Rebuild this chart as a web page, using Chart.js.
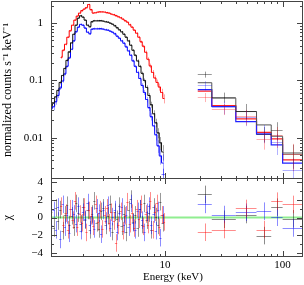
<!DOCTYPE html>
<html lang="en">
<head>
<meta charset="UTF-8">
<title>Spectrum and residuals</title>
<script src="https://cdn.jsdelivr.net/npm/chart.js"></script>
<style>
  body { margin: 0; background: #fff; }
  #wrap { position: relative; width: 304px; height: 285px; }
  canvas { position: absolute; left: 0; }
  #spec { top: 0; }
  #res { top: 178px; }
  #xlab { position: absolute; left: 143px; top: 270px; font: 11px 'Liberation Serif', serif; color: #000; white-space: nowrap; }
</style>
</head>
<body>
<div id="wrap">
  <canvas id="spec" width="304" height="180"></canvas>
  <canvas id="res" width="304" height="107"></canvas>
  <div id="xlab">Energy (keV)</div>
</div>
<script>
// soft band, bin centres in keV (black and blue share the binning)
const energyBB = [1.08,1.13,1.18,1.23,1.29,1.35,1.41,1.47,1.54,1.61,1.68,1.76,1.84,1.92,2.01,2.10,2.20,2.30,2.40,2.51,
  2.62,2.74,2.87,3.00,3.13,3.28,3.43,3.58,3.75,3.92,4.10,4.28,4.48,4.68,4.90,5.12,5.35,5.60,5.85,6.12,
  6.40,6.69,6.99,7.31,7.65,8.00,8.36,8.74,9.14,9.56];
const blackCounts = [0.036,0.041,0.052,0.067,0.092,0.122,0.162,0.224,0.316,0.455,0.641,0.922,1.224,1.354,1.274,1.129,0.922,0.868,1.062,1.106,
  1.106,1.106,1.106,1.084,1.062,1.041,1.0,0.960,0.904,0.834,0.769,0.709,0.641,0.568,0.493,0.411,0.336,0.275,0.220,0.176,
  0.133,0.100,0.0754,0.0546,0.0379,0.0264,0.0183,0.0122,0.0082,0.0057];
const blackErr = [.14,.12,.1,.08,.07,.06,.05,.05,.04,.04,.03,.03,.03,.03,.03,.03,.03,.03,.03,.03,
  .03,.03,.03,.03,.03,.03,.03,.03,.03,.03,.03,.03,.04,.04,.04,.04,.05,.05,.06,.06,
  .07,.08,.09,.1,.12,.14,.17,.2,.25,.3];
const blueCounts = [0.0323,0.035,0.0428,0.0546,0.0739,0.098,0.130,0.176,0.248,0.350,0.493,0.710,0.85,0.95,0.92,0.82,0.695,0.654,0.785,0.801,
  0.801,0.801,0.801,0.785,0.769,0.754,0.724,0.695,0.654,0.592,0.546,0.493,0.446,0.387,0.329,0.275,0.220,0.176,0.138,0.108,
  0.0817,0.0616,0.0464,0.0336,0.0234,0.0162,0.0113,0.00724,0.00483,0.00364];
const blueErr = [.16,.14,.12,.1,.08,.07,.06,.05,.05,.04,.04,.04,.04,.04,.04,.04,.04,.04,.04,.04,
  .04,.04,.04,.04,.04,.04,.04,.04,.04,.04,.04,.04,.05,.05,.05,.05,.06,.06,.07,.08,
  .09,.1,.11,.13,.15,.18,.21,.25,.3,.4];
const energyRed = [1.31,1.37,1.43,1.50,1.57,1.64,1.72,1.80,1.88,1.97,2.06,2.15,2.25,2.35,2.46,2.57,2.69,2.81,2.94,3.07,
  3.21,3.36,3.51,3.67,3.84,4.02,4.20,4.39,4.59,4.80,5.02,5.25,5.49,5.74,6.00,6.27,6.56,6.86,7.17,7.50,
  7.84,8.20,8.57,8.96,9.37,9.80];
const redCounts = [0.253,0.336,0.428,0.568,0.739,0.922,1.129,1.327,1.498,1.657,1.760,1.870,2.112,1.725,1.498,1.528,1.560,1.578,1.578,1.560,
  1.528,1.498,1.438,1.410,1.354,1.300,1.249,1.175,1.106,1.041,0.941,0.851,0.754,0.668,0.568,0.474,0.395,0.310,0.234,0.180,
  0.138,0.1106,0.0922,0.0769,0.0616,0.0483];
const redErr = [.06,.05,.05,.04,.04,.03,.03,.03,.03,.03,.03,.03,.03,.03,.03,.03,.03,.03,.03,.03,
  .03,.03,.03,.03,.03,.03,.03,.03,.03,.03,.04,.04,.04,.04,.05,.05,.06,.07,.08,.09,
  .1,.11,.12,.14,.16,.18];
// last blue point that falls below the model
const blueTailBin = [9.35, 10.0];
const blueTail = [0.0023];
const blueTailErr = [0.25];

// hard band, bin edges in keV
const hardEdges = [19, 25, 40, 60, 80, 100, 150];
const blackModelHard = [0.091, 0.049, 0.0286, 0.0167, 0.0106, 0.0054];
const blueModelHard = [0.069, 0.035, 0.019, 0.0115, 0.0075, 0.0036];
const redModelHard = [0.065, 0.0364, 0.0213, 0.0124, 0.0095, 0.0041];
const blackHard = [0.127, 0.051, 0.0298, 0.0118, 0.0138, 0.0052];
const blueHard = [0.0817, 0.034, 0.0227, 0.0123, 0.0083, 0.0027];
const redHard = [0.051, 0.0318, 0.0235, 0.0095, 0.011, 0.0052];
const blackHardErr = [.12, .2, .3, .3, .35, .45];
const blueHardErr = [.18, .25, .3, .35, .4, .6];
const redHardErr = [.18, .22, .3, .35, .4, .5];

// residuals (chi)
const blackChi = [0.6,-1.2,1.1,-0.4,0.9,-1.5,0.3,1.4,-0.8,0.2,-1.1,1.6,0.5,-0.7,1.2,-0.3,0.8,-1.4,0.4,1.9,
  -0.6,-1.3,0.7,1.1,-0.9,0.2,1.5,-1.6,0.6,-0.2,1.3,-1.0,0.4,-1.7,0.9,2.1,-0.5,0.3,-1.2,1.0,
  -0.8,1.6,-0.3,0.5,-1.4,1.2,0.1,-0.9,1.8,-0.6];
const blueChi = [-0.9,0.8,-1.4,1.2,-2.5,1.5,-1.1,0.3,-1.8,1.0,0.4,-0.7,1.3,-1.5,0.6,-0.2,1.7,-0.9,0.2,-1.3,
  1.1,0.5,-1.9,0.8,-0.4,1.4,-1.2,0.1,0.9,-1.6,0.5,1.2,-0.8,0.3,-1.1,1.6,-0.6,-1.4,0.7,1.0,
  -0.3,-1.7,0.6,1.3,-0.9,0.4,-1.5,0.8,-2.3,0.3];
const redChi = [1.3,-0.8,0.5,-1.4,1.0,-0.3,1.9,-1.1,0.4,-0.6,1.2,-1.7,0.8,0.2,-1.0,1.5,-0.5,0.9,-1.3,0.3,
  1.1,-0.6,0.6,-0.4,-2.9,-0.9,0.7,-1.5,0.2,1.8,-0.7,0.5,-1.2,1.0,-0.2,1.5,-1.0,0.4,-0.8,1.9,
  -1.4,0.6,1.6,-1.1,0.3,-0.5];
const blackChiHard = [2.63, -0.2, 0.34, -2.06, 1.18, -0.15];
const blueChiHard = [1.49, 0.34, 0.6, 0.72, 0.03, -1.19];
const redChiHard = [-1.68, -1.37, 1.03, -1.37, 1.86, 1.49];

// axes
const xRange = [1.075, 149];
const countRange = [0.0019, 2.43];
const chiRange = [-4.5, 4.5];
const xMajor = [10, 100];
const xMinor = [2, 3, 4, 5, 6, 7, 8, 9, 20, 30, 40, 50, 60, 70, 80, 90];
const countTicks = [0.01, 0.1, 1];
const countMinor = [0.002,0.003,0.004,0.005,0.006,0.007,0.008,0.009,0.02,0.03,0.04,0.05,0.06,0.07,0.08,0.09,
  0.2,0.3,0.4,0.5,0.6,0.7,0.8,0.9,2];
const chiTicks = [-4, -2, 0, 2, 4];
const chiMinor = [-3, -1, 1, 3];

Chart.defaults.font.family = "'Liberation Serif', 'Times New Roman', serif";
Chart.defaults.font.size = 11;
Chart.defaults.color = '#000';

function binEdges(c) {
  const lo = [], hi = [];
  for (let i = 0; i < c.length; i++) {
    const prev = i > 0 ? c[i - 1] : c[0] * c[0] / c[1];
    const next = i < c.length - 1 ? c[i + 1] : c[i] * c[i] / c[i - 1];
    lo.push(Math.sqrt(prev * c[i]));
    hi.push(Math.sqrt(c[i] * next));
  }
  return [lo, hi];
}

function softSet(e, v, err, color) {
  const [lo, hi] = binEdges(e);
  return { x: e, lo, hi, y: v, ylo: v.map((y, i) => y * (1 - err[i])), yhi: v.map((y, i) => y * (1 + err[i])), color };
}
function softChi(e, chi, color) {
  const [lo, hi] = binEdges(e);
  return { x: e, lo, hi, y: chi, ylo: chi.map(c => c - 1), yhi: chi.map(c => c + 1), color };
}
function hardSet(v, err, color) {
  const lo = hardEdges.slice(0, -1), hi = hardEdges.slice(1);
  return { x: lo.map((l, i) => Math.sqrt(l * hi[i])), lo, hi, y: v,
    ylo: v.map((y, i) => y * (1 - err[i])), yhi: v.map((y, i) => y * (1 + err[i])), color };
}
function hardChi(chi, color) {
  const lo = hardEdges.slice(0, -1), hi = hardEdges.slice(1);
  return { x: lo.map((l, i) => Math.sqrt(l * hi[i])), lo, hi, y: chi,
    ylo: chi.map(c => c - 1), yhi: chi.map(c => c + 1), color };
}

// data crosses: bin width horizontally, error bar vertically
const crosses = {
  id: 'crosses',
  afterDatasetsDraw(chart, args, opts) {
    const { ctx, chartArea: a, scales: { x, y } } = chart;
    ctx.save();
    ctx.beginPath();
    ctx.rect(a.left, a.top, a.right - a.left, a.bottom - a.top);
    ctx.clip();
    ctx.lineWidth = 1;
    opts.sets.forEach(s => {
      ctx.strokeStyle = s.color;
      s.y.forEach((v, i) => {
        const px = Math.round(x.getPixelForValue(s.x[i])) + 0.5;
        const py = Math.round(y.getPixelForValue(v)) + 0.5;
        ctx.beginPath();
        ctx.moveTo(x.getPixelForValue(s.lo[i]), py);
        ctx.lineTo(x.getPixelForValue(s.hi[i]), py);
        ctx.moveTo(px, y.getPixelForValue(s.ylo[i]));
        ctx.lineTo(px, y.getPixelForValue(s.yhi[i]));
        ctx.stroke();
      });
    });
    ctx.restore();
  }
};

// box with inward ticks on all four sides
const frame = {
  id: 'frame',
  afterDraw(chart, args, opts) {
    const { ctx, chartArea: a, scales: { x, y } } = chart;
    ctx.save();
    ctx.strokeStyle = '#444';
    ctx.lineWidth = 1;
    ctx.strokeRect(a.left + 0.5, a.top + 0.5, a.right - a.left - 1, a.bottom - a.top - 1);
    ctx.beginPath();
    const xt = (vals, len) => vals.forEach(v => {
      if (v <= x.min || v >= x.max) return;
      const p = Math.round(x.getPixelForValue(v)) + 0.5;
      ctx.moveTo(p, a.top); ctx.lineTo(p, a.top + len);
      ctx.moveTo(p, a.bottom); ctx.lineTo(p, a.bottom - len);
    });
    const yt = (vals, len) => vals.forEach(v => {
      if (v <= y.min || v >= y.max) return;
      const p = Math.round(y.getPixelForValue(v)) + 0.5;
      ctx.moveTo(a.left, p); ctx.lineTo(a.left + len, p);
      ctx.moveTo(a.right, p); ctx.lineTo(a.right - len, p);
    });
    xt(xMajor, 6); xt(xMinor, 3);
    yt(opts.yMajor, 6); yt(opts.yMinor, 3);
    ctx.stroke();
    ctx.restore();
  }
};

function line(points, color, stepped, width) {
  return { data: points, showLine: true, borderColor: color, borderWidth: width || 1, stepped, pointRadius: 0, fill: false };
}
const xy = (xs, ys) => xs.map((v, i) => ({ x: v, y: ys[i] }));
const steps = m => hardEdges.map((e, i) => ({ x: e, y: m[Math.min(i, m.length - 1)] }));
// keep the plot box exactly where the layout padding puts it
const noPad = s => { s.paddingTop = 0; s.paddingBottom = 0; s.paddingLeft = 0; s.paddingRight = 0; };
const noGrid = { display: false, drawTicks: false };

new Chart(document.getElementById('spec'), {
  type: 'scatter',
  data: {
    datasets: [
      line(xy(energyBB, blackCounts), '#111', 'middle'),
      line(xy(energyBB, blueCounts), '#0000ff', 'middle'),
      line(xy(energyRed, redCounts), '#ff0000', 'middle'),
      line(steps(blackModelHard), '#555', true),
      line(steps(blueModelHard), '#2222ff', true, 1.2),
      line(steps(redModelHard), '#ff2222', true, 1.2)
    ]
  },
  options: {
    responsive: false,
    animation: false,
    layout: { padding: { top: 1, right: 1, bottom: 1, left: 0 } },
    scales: {
      x: { type: 'logarithmic', min: xRange[0], max: xRange[1], display: false },
      y: {
        type: 'logarithmic', min: countRange[0], max: countRange[1],
        grid: noGrid, border: { display: false },
        afterFit: s => { s.width = 51; noPad(s); },
        afterBuildTicks: s => { s.ticks = countTicks.map(v => ({ value: v })); },
        ticks: { padding: 8, callback: v => String(v) },
        title: { display: true, text: 'normalized counts s\u207b\u00b9 keV\u207b\u00b9', font: { size: 12 }, padding: { top: 1, bottom: 0 } }
      }
    },
    plugins: {
      legend: { display: false },
      tooltip: { enabled: false },
      crosses: { sets: [
        softSet(energyBB, blackCounts, blackErr, 'rgba(0,0,0,0.35)'),
        softSet(energyBB, blueCounts, blueErr, 'rgba(0,0,255,0.35)'),
        softSet(energyRed, redCounts, redErr, 'rgba(255,0,0,0.35)'),
        { x: [Math.sqrt(blueTailBin[0] * blueTailBin[1])], lo: [blueTailBin[0]], hi: [blueTailBin[1]], y: blueTail,
          ylo: blueTail.map((v, i) => v * (1 - blueTailErr[i])), yhi: blueTail.map((v, i) => v * (1 + blueTailErr[i])),
          color: 'rgba(0,0,255,0.5)' },
        hardSet(blackHard, blackHardErr, 'rgba(0,0,0,0.4)'),
        hardSet(blueHard, blueHardErr, 'rgba(0,0,255,0.3)'),
        hardSet(redHard, redHardErr, 'rgba(255,0,0,0.3)')
      ] },
      frame: { yMajor: countTicks, yMinor: countMinor }
    }
  },
  plugins: [crosses, frame]
});

new Chart(document.getElementById('res'), {
  type: 'scatter',
  data: {
    datasets: [
      line([{ x: xRange[0], y: 0 }, { x: xRange[1], y: 0 }], '#90ee90', false, 2)
    ]
  },
  options: {
    responsive: false,
    animation: false,
    layout: { padding: { top: 0, right: 1, bottom: 0, left: 0 } },
    scales: {
      x: {
        type: 'logarithmic', min: xRange[0], max: xRange[1],
        grid: noGrid, border: { display: false },
        afterFit: s => { s.height = 28; noPad(s); },
        afterBuildTicks: s => { s.ticks = xMajor.map(v => ({ value: v })); },
        ticks: { padding: 2, maxRotation: 0, autoSkip: false, callback: v => String(v) }
      },
      y: {
        min: chiRange[0], max: chiRange[1],
        grid: noGrid, border: { display: false },
        afterFit: s => { s.width = 51; noPad(s); },
        afterBuildTicks: s => { s.ticks = chiTicks.map(v => ({ value: v })); },
        ticks: { padding: 8, callback: v => (v < 0 ? '\u2212' + (-v) : String(v)) },
        title: { display: true, text: '\u03c7', font: { size: 12 }, padding: { top: 1, bottom: 0 } }
      }
    },
    plugins: {
      legend: { display: false },
      tooltip: { enabled: false },
      crosses: { sets: [
        softChi(energyBB, blackChi, 'rgba(0,0,0,0.4)'),
        softChi(energyBB, blueChi, 'rgba(0,0,255,0.45)'),
        softChi(energyRed, redChi, 'rgba(255,0,0,0.45)'),
        hardChi(blackChiHard, 'rgba(0,0,0,0.45)'),
        hardChi(blueChiHard, 'rgba(0,0,255,0.45)'),
        hardChi(redChiHard, 'rgba(255,0,0,0.45)')
      ] },
      frame: { yMajor: chiTicks, yMinor: chiMinor }
    }
  },
  plugins: [crosses, frame]
});
</script>
</body>
</html>
